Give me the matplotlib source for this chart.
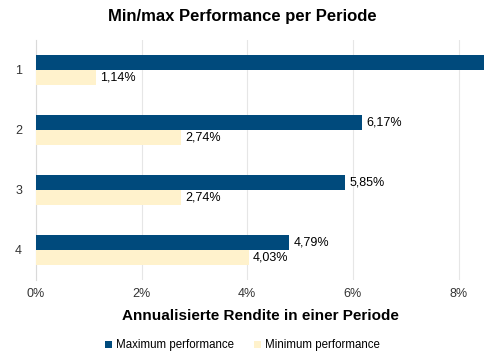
import numpy as np
import matplotlib
matplotlib.use("Agg")
import matplotlib.pyplot as plt

plt.rcParams['font.family'] = ['Liberation Sans', 'DejaVu Sans']

# data
perioden = ["1", "2", "3", "4"]
max_perf = [10.5, 6.17, 5.85, 4.79]   # bar 1 runs off the chart
min_perf = [1.14, 2.74, 2.74, 4.03]
max_labels = ["", "6,17%", "5,85%", "4,79%"]
min_labels = ["1,14%", "2,74%", "2,74%", "4,03%"]

fig = plt.figure(figsize=(4.85, 3.6), dpi=100)
ax = fig.add_axes([36 / 485, 1 - 280 / 360, 449 / 485, 240 / 360])

y = np.arange(len(perioden)) + 1
h = 0.25
ax.barh(y - h / 2, max_perf, height=h, color="#004A7C", label="Maximum performance", zorder=3)
ax.barh(y + h / 2, min_perf, height=h, color="#FFF2CC", label="Minimum performance", zorder=3)

for yi, v, t in zip(y, max_perf, max_labels):
    if t:
        ax.text(v + 0.08, yi - h / 2, t, va="center", ha="left", fontsize=9)
for yi, v, t in zip(y, min_perf, min_labels):
    ax.text(v + 0.08, yi + h / 2, t, va="center", ha="left", fontsize=9)

ax.set_xlim(0, 8.5)
ax.set_ylim(4.5, 0.5)
ax.set_xticks([0, 2, 4, 6, 8])
ax.set_xticklabels(["0%", "2%", "4%", "6%", "8%"])
ax.set_yticks(y)
ax.set_yticklabels(perioden)
ax.tick_params(length=0, labelsize=9, colors="#333333")
ax.tick_params(axis="y", pad=10)
ax.tick_params(axis="x", pad=6)
ax.grid(axis="x", color="#E6E6E6", linewidth=0.8, zorder=0)
for s in ["top", "right", "bottom"]:
    ax.spines[s].set_visible(False)
ax.spines["left"].set_color("#D9D9D9")

ax.set_xlabel("Annualisierte Rendite in einer Periode", fontsize=11, fontweight="bold", labelpad=6)
fig.suptitle("Min/max Performance per Periode", fontsize=12, fontweight="bold", y=0.975)

fig.legend(loc="lower center", bbox_to_anchor=(0.5, -0.005), ncol=2, frameon=False,
           fontsize=8.3, handlelength=0.6, handleheight=0.6, columnspacing=1.8, handletextpad=0.3)

fig.savefig("out.png", dpi=100)
